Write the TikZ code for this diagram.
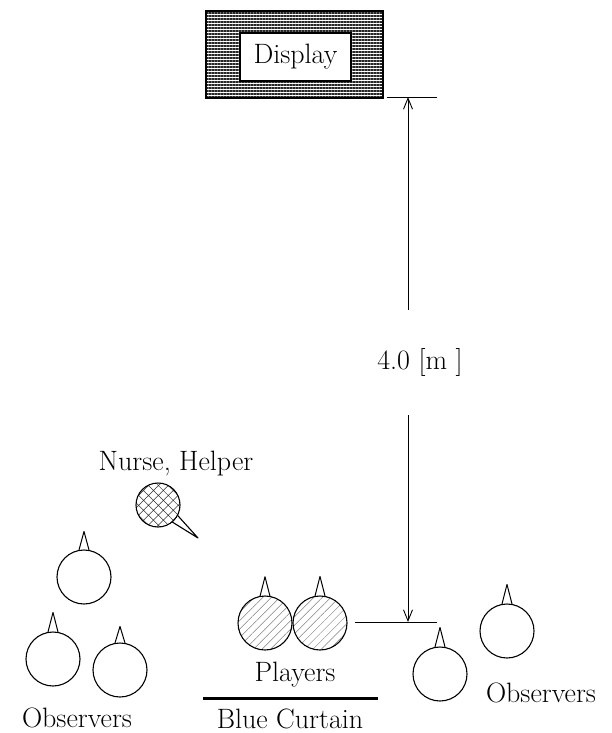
\documentclass[tikz,border=0pt]{standalone}
\usetikzlibrary{patterns.meta,arrows.meta,calc}
\begin{document}
\begin{tikzpicture}[x=1pt,y=-1pt,
  lbl/.style={font=\fontsize{28}{31}\selectfont, inner sep=0pt},
  person/.style={circle, draw, line width=1.1pt, minimum size=54pt, inner sep=0pt, fill=white},
  player/.style={person, pattern={Lines[angle=45,distance=6pt,line width=0.5pt]}, pattern color=gray},
  nurse/.style={circle, draw, line width=1.1pt, minimum size=44pt, inner sep=0pt,
     pattern={Hatch[angle=45,distance=7pt,line width=0.5pt]}, pattern color=black!80},
  spike/.style={line width=1pt, line join=round},
  dim/.style={line width=0.9pt},
  dimarrow/.style={line width=0.9pt, -{Straight Barb[length=11pt,width=9pt]}}
]
\useasboundingbox (0,0) rectangle (611,733);
% Display
\node[draw, line width=1.2pt, minimum width=177pt, minimum height=87pt, inner sep=0pt,
      fill=black!30, pattern={Lines[angle=0,distance=3pt,line width=1.5pt]}, pattern color=black!85] (dispframe) at (294.5,54.5) {};
\node[draw, line width=1.2pt, fill=white, minimum width=111pt, minimum height=48pt, inner sep=0pt] (disp) at (295.5,57) {};
\node[lbl] (displbl) at (295.5,57) {Display};
% dimension
\coordinate (t1) at (387,97);
\coordinate (t2) at (437,97);
\coordinate (b1) at (355,622);
\coordinate (b2) at (437,622);
\coordinate (atop) at (408,97);
\coordinate (abot) at (408,622);
\coordinate (mid1) at (408,310);
\coordinate (mid2) at (408,415);
\draw[dim] (t1) -- (t2);
\draw[dim] (b1) -- (b2);
\draw[dimarrow] (mid1) -- (atop);
\draw[dimarrow] (mid2) -- (abot);
\node[lbl] (dimlbl) at (420,362) {4.0\ [m\ ]};
% spike macro
\newcommand\myspike[2]{\draw[spike] ($(#1.north)+(-5,0.5)$) -- ($(#1.north)+(0,-#2)$) -- ($(#1.north)+(5,0.5)$);}
% Nurse
\node[lbl] (nurselbl) at (176,464) {Nurse, Helper};
\coordinate (tip) at (198,538);
\node[nurse] (nurse) at (158,505) {};
\draw[line width=1.1pt, line join=round] (nurse.-28) -- (tip) -- (nurse.-50);
% left observers
\node[person] (lo1) at (84,577) {};
\node[person] (lo2) at (53,659) {};
\node[person] (lo3) at (120,670) {};
\myspike{lo1}{18}
\myspike{lo2}{19}
\myspike{lo3}{16}
\node[lbl] (lobs) at (77,718) {Observers};
% players
\node[player] (p1) at (265,623) {};
\node[player] (p2) at (320,623) {};
\myspike{p1}{19}
\myspike{p2}{19}
\node[lbl] (plbl) at (295,675) {Players};
\coordinate (c1) at (203,698);
\coordinate (c2) at (378,698);
\draw[line width=3pt] (c1) -- (c2);
\node[lbl] (clbl) at (290,719) {Blue Curtain};
% right observers
\node[person] (ro1) at (440,674) {};
\node[person] (ro2) at (507,631) {};
\myspike{ro1}{19}
\myspike{ro2}{19}
\node[lbl] (robs) at (541,693) {Observers};
\end{tikzpicture}
\end{document}
